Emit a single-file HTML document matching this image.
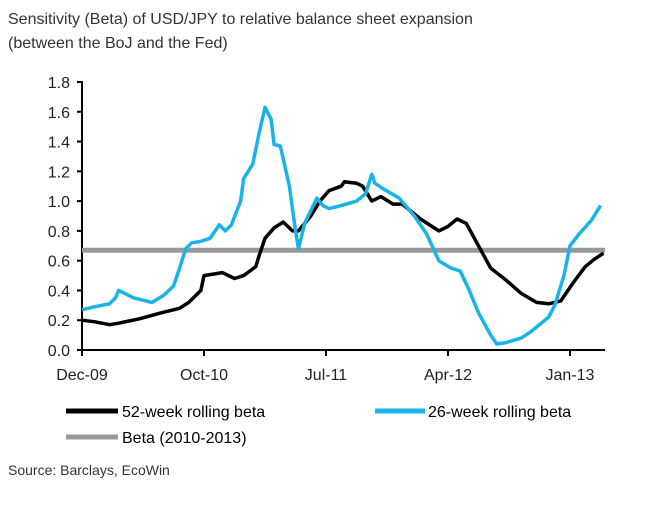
<!DOCTYPE html>
<html><head><meta charset="utf-8"><style>
body{margin:0;background:#fff;width:649px;height:507px;overflow:hidden;font-family:"Liberation Sans",sans-serif;color:#222}
</style></head><body>
<svg id="chart" width="649" height="507" xmlns="http://www.w3.org/2000/svg" font-family="Liberation Sans, sans-serif">
<text x="8" y="24" font-size="16" fill="#333">Sensitivity (Beta) of USD/JPY to relative balance sheet expansion</text>
<text x="8" y="48" font-size="16" fill="#333">(between the BoJ and the Fed)</text>
<g id="plot"></g>
<g>
<line x1="66" y1="411" x2="118" y2="411" stroke="#000" stroke-width="5"/>
<text x="122" y="417" font-size="16">52-week rolling beta</text>
<line x1="375" y1="411" x2="425" y2="411" stroke="#1ab3e6" stroke-width="5"/>
<text x="428" y="417" font-size="16">26-week rolling beta</text>
<line x1="66" y1="437" x2="118" y2="437" stroke="#999" stroke-width="5"/>
<text x="122" y="443" font-size="16">Beta (2010-2013)</text>
</g>
<text x="8" y="475" font-size="14" fill="#333">Source: Barclays, EcoWin</text>
</svg>
<script>
const tickWeeks=[0,40,80,120,160];
const tickLabels=["Dec-09","Oct-10","Jul-11","Apr-12","Jan-13"];
const yTicks=[0,0.2,0.4,0.6,0.8,1.0,1.2,1.4,1.6,1.8];
const avgBeta=0.67;
const weeks52=[0,4,9,12,19,26,32,35,39,40,43,46,50,53,57,58,60,63,66,69,71,75,78,81,85,86,90,92,95,98,102,105,111,117,120,123,126,130,134,139,144,149,153,157,161,165,168,171];
const beta52=[0.20,0.19,0.17,0.18,0.21,0.25,0.28,0.32,0.40,0.50,0.51,0.52,0.48,0.50,0.56,0.63,0.75,0.82,0.86,0.80,0.80,0.90,1.00,1.07,1.10,1.13,1.12,1.10,1.00,1.03,0.98,0.98,0.88,0.80,0.83,0.88,0.85,0.70,0.55,0.47,0.38,0.32,0.31,0.33,0.45,0.56,0.61,0.65];
const weeks26=[0,4,9,11,12,15,17,21,23,27,30,32,34,36,39,42,45,47,49,52,53,56,58,60,62,63,65,68,70,71,73,77,79,81,85,90,93,95,96,99,104,109,113,117,121,124,127,130,134,136,139,144,147,153,155,158,160,163,167,170];
const beta26=[0.27,0.29,0.31,0.35,0.40,0.37,0.35,0.33,0.32,0.37,0.43,0.55,0.68,0.72,0.73,0.75,0.84,0.80,0.84,1.00,1.15,1.25,1.45,1.63,1.55,1.38,1.37,1.10,0.80,0.68,0.85,1.02,0.97,0.95,0.97,1.00,1.05,1.18,1.12,1.08,1.02,0.90,0.78,0.60,0.55,0.53,0.40,0.25,0.10,0.04,0.05,0.08,0.12,0.22,0.30,0.50,0.70,0.78,0.87,0.97];

const NS="http://www.w3.org/2000/svg";
const X0=82,PPW=3.05,XEND=605,Y0=350,YTOP=82;
const xs=w=>X0+w*PPW;
const ys=v=>Y0-(v/1.8)*(Y0-YTOP);
const plot=document.getElementById('plot');
function mk(t,a){const e=document.createElementNS(NS,t);for(const k in a)e.setAttribute(k,a[k]);plot.appendChild(e);return e;}
// axes
const ya=mk('line',{x1:X0,y1:YTOP-1,x2:X0,y2:Y0,stroke:'#000','stroke-width':2});


const xa=mk('line',{x1:X0,y1:Y0,x2:XEND,y2:Y0,stroke:'#000','stroke-width':2});


yTicks.forEach(v=>{
 mk('line',{x1:X0-5,y1:ys(v),x2:X0,y2:ys(v),stroke:'#000','stroke-width':2});
 const t=mk('text',{x:X0-12,y:ys(v)+6,'text-anchor':'end','font-size':16,fill:'#222'});
 t.textContent=v.toFixed(1);
 
 
});
tickWeeks.forEach((w,i)=>{
 mk('line',{x1:xs(w),y1:Y0,x2:xs(w),y2:Y0+6,stroke:'#000','stroke-width':2});
 const t=mk('text',{x:xs(w),y:Y0+30,'text-anchor':'middle','font-size':16,fill:'#222'});
 t.textContent=tickLabels[i];
 
 
});
const avg=mk('line',{x1:X0,y1:ys(avgBeta),x2:XEND,y2:ys(avgBeta),stroke:'#999','stroke-width':5});


function pts(w,v){return w.map((x,i)=>xs(x).toFixed(1)+','+ys(v[i]).toFixed(1)).join(' ');}
const l52=mk('polyline',{points:pts(weeks52,beta52),fill:'none',stroke:'#000','stroke-width':3.5,'stroke-linejoin':'round'});


const l26=mk('polyline',{points:pts(weeks26,beta26),fill:'none',stroke:'#1ab3e6','stroke-width':3.5,'stroke-linejoin':'round'});


</script>
</body></html>
